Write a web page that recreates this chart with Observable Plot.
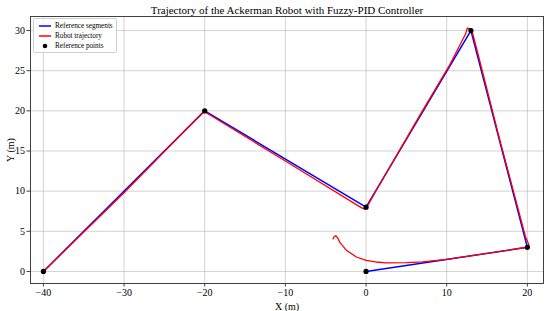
<!DOCTYPE html>
<html>
<head>
<meta charset="utf-8">
<script src="https://cdn.jsdelivr.net/npm/d3@7"></script>
<script src="https://cdn.jsdelivr.net/npm/@observablehq/plot@0.6"></script>
<style>
  html, body { margin: 0; padding: 0; background: #fff; }
  #wrap { position: relative; width: 550px; height: 311px; font-family: "Liberation Serif", "Times New Roman", serif; }
  #legend { position: absolute; left: 33px; top: 18px; padding: 2px 3px 1px 0; border: 1px solid #cfcfcf; border-radius: 2px; background: rgba(255,255,255,0.85); font-size: 7.2px; color: #000; white-space: nowrap; }
  .row { display: flex; align-items: center; height: 10px; white-space: nowrap; }
  .sw { width: 21px; flex: none; display: flex; justify-content: center; align-items: center; }
</style>
</head>
<body>
<div id="wrap"><div id="chart"></div><div id="legend"></div></div>
<script>
// Reference points (path order)
const refX = [0, 20, 13, 0, -20, -40];
const refY = [0, 3, 30, 8, 20, 0];

// Robot trajectory
const trajX = [-4.1, -3.95, -3.75, -3.5, -3.2, -2.4, -1.2, 0, 1.2, 2.5, 5, 7, 10, 15, 19.5, 20.15, 20.2, 19.75, 16.55, 13.95, 13.2, 12.85, 12.55, 12.35, 10.25, 6.75, 1.1, 0.1, -0.15, -0.6, -10, -19.3, -20.0, -20.4, -30, -40];
const trajY = [4.05, 4.35, 4.45, 4.15, 3.55, 2.6, 1.8, 1.37, 1.18, 1.08, 1.1, 1.2, 1.5, 2.25, 2.95, 3.1, 3.3, 4.4, 16.5, 26.8, 29.7, 30.25, 30.3, 29.6, 25.5, 19.6, 9.8, 8.0, 7.75, 7.95, 13.75, 19.45, 19.85, 19.65, 9.8, 0];

const xTicks = [-40, -30, -20, -10, 0, 10, 20];
const yTicks = [0, 5, 10, 15, 20, 25, 30];

const title = "Trajectory of the Ackerman Robot with Fuzzy-PID Controller";
const legendItems = [
  {label: "Reference segments", kind: "line", color: "#0000ff"},
  {label: "Robot trajectory", kind: "line", color: "#ff0000"},
  {label: "Reference points", kind: "dot", color: "#000000"}
];

const refPts = refX.map((x, i) => ({x, y: refY[i]}));
const trajPts = trajX.map((x, i) => ({x, y: trajY[i]}));
const fmt = d => (d < 0 ? "\u2212" + Math.abs(d) : String(d));

const chart = Plot.plot({
  width: 550,
  height: 311,
  marginLeft: 30,
  marginRight: 7,
  marginTop: 16,
  marginBottom: 28,
  style: {fontFamily: "'Liberation Serif', 'Times New Roman', serif", fontSize: "10px", color: "#000", background: "#fff"},
  x: {domain: [-41.6, 22]},
  y: {domain: [-1.5, 31.75]},
  marks: [
    Plot.gridX(xTicks, {stroke: "#b0b0b0", strokeOpacity: 0.7, strokeWidth: 0.8}),
    Plot.gridY(yTicks, {stroke: "#b0b0b0", strokeOpacity: 0.7, strokeWidth: 0.8}),
    Plot.frame({stroke: "#404040", strokeWidth: 1}),
    Plot.axisX(xTicks, {tickSize: 3.5, tickPadding: 2, tickFormat: fmt, fontSize: 10, stroke: "#404040",
      label: "X (m)", labelAnchor: "center", labelArrow: "none", labelOffset: 26}),
    Plot.axisY(yTicks, {tickSize: 3.5, tickPadding: 2, tickFormat: fmt, fontSize: 10, stroke: "#404040",
      label: "Y (m)", labelAnchor: "center", labelArrow: "none", labelOffset: 24}),
    Plot.line(refPts, {x: "x", y: "y", stroke: "#0000ff", strokeWidth: 1.5}),
    Plot.line(trajPts, {x: "x", y: "y", stroke: "#ff0000", strokeWidth: 1.3, curve: "linear"}),
    Plot.dot(refPts, {x: "x", y: "y", fill: "#000", r: 2.6}),
    Plot.text([title], {frameAnchor: "top", dy: -3, lineAnchor: "bottom", fontSize: 11, fill: "#000"})
  ]
});
document.getElementById("chart").appendChild(chart);

const leg = d3.select("#legend");
legendItems.forEach(item => {
  const row = leg.append("div").attr("class", "row");
  const sw = row.append("div").attr("class", "sw");
  const svg = sw.append("svg").attr("width", 14).attr("height", 8);
  if (item.kind === "line") {
    svg.append("line").attr("x1", 1).attr("x2", 13).attr("y1", 4).attr("y2", 4)
      .attr("stroke", item.color).attr("stroke-width", 1.5);
  } else {
    svg.append("circle").attr("cx", 7).attr("cy", 4).attr("r", 2.3).attr("fill", item.color);
  }
  row.append("span").text(item.label);
});
</script>
</body>
</html>
